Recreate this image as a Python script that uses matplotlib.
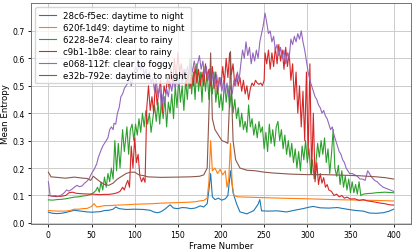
import matplotlib
matplotlib.use("Agg")
import matplotlib.pyplot as plt
import numpy as np

# ---- data (frame knots, mean entropy) ----
blue_f = [0, 5, 10, 15, 20, 25, 30, 35, 40, 45, 50, 55, 60, 65, 70, 75, 78, 82, 90, 100,
          110, 118, 122, 126, 130, 135, 141, 145, 150, 155, 160, 165, 170, 176, 180, 184, 186, 188, 190, 193,
          197, 201, 205, 208, 211, 214, 218, 222, 230, 238, 243, 245, 247, 255, 265, 276, 285, 295, 303, 307,
          315, 325, 335, 342, 350, 357, 365, 372, 380, 388, 395, 400]
blue_v = [0.039, 0.035, 0.034, 0.035, 0.038, 0.042, 0.046, 0.044, 0.042, 0.040,
          0.039, 0.040, 0.041, 0.045, 0.046, 0.050, 0.058, 0.052, 0.049, 0.050,
          0.049, 0.046, 0.040, 0.037, 0.040, 0.050, 0.066, 0.054, 0.052, 0.056,
          0.055, 0.052, 0.054, 0.062, 0.058, 0.070, 0.120, 0.180, 0.095, 0.085,
          0.090, 0.083, 0.088, 0.100, 0.190, 0.110, 0.070, 0.040, 0.033, 0.045,
          0.068, 0.085, 0.044, 0.043, 0.044, 0.040, 0.046, 0.052, 0.058, 0.060,
          0.055, 0.054, 0.056, 0.052, 0.048, 0.045, 0.043, 0.036, 0.035, 0.037,
          0.043, 0.050]

orange_f = [0, 10, 20, 25, 30, 35, 40, 45, 50, 53, 56, 60, 65, 70, 80, 90, 100, 110, 120, 130,
            140, 150, 160, 170, 175, 180, 184, 186, 188, 190, 193, 196, 199, 202, 205, 207, 209, 211, 213, 215,
            220, 230, 240, 250, 270, 300, 330, 360, 380, 400]
orange_v = [0.045, 0.043, 0.043, 0.045, 0.050, 0.050, 0.052, 0.053, 0.060, 0.070,
            0.058, 0.060, 0.063, 0.063, 0.065, 0.066, 0.068, 0.069, 0.070, 0.072,
            0.073, 0.074, 0.075, 0.077, 0.080, 0.082, 0.090, 0.150, 0.300, 0.190,
            0.200, 0.180, 0.195, 0.175, 0.190, 0.130, 0.160, 0.290, 0.140, 0.100,
            0.095, 0.094, 0.093, 0.092, 0.090, 0.088, 0.085, 0.083, 0.082, 0.080]

green_f = [0, 5, 10, 15, 20, 25, 30, 35, 40, 45, 50, 53, 55,
           57, 59, 61, 63, 65, 67, 69, 71, 73, 75, 77, 79, 81, 83, 86, 88, 91, 93, 95,
           97, 99, 101, 103, 105, 107, 109, 111, 113, 115, 117, 119, 121, 123, 125, 127, 129, 131,
           133, 135, 137, 139, 141, 143, 145, 147, 149, 151, 153, 155, 157, 159, 161, 164, 166, 168, 170,
           172, 174, 176, 178, 180, 182, 184, 186, 188,
           190, 192, 194, 196, 198, 200, 202, 204, 206, 208, 210, 212, 214, 216, 218, 220, 222, 224,
           226, 228, 230, 232, 234, 236, 238, 240, 242, 244, 246, 248, 250, 252, 254, 256, 258,
           260, 262, 264, 266, 268, 270, 272, 274, 276, 278, 280, 282, 284, 286, 288, 290, 292, 294,
           296, 298, 300, 302, 304, 306, 308, 310, 312, 314, 316, 318, 320, 322, 324, 326, 328, 330, 332,
           334, 336, 338, 340, 342, 344, 346, 348, 350, 352, 354, 356, 358, 360, 362, 365, 370, 375,
           380, 385, 390, 395, 400]
green_v = [0.084, 0.083, 0.085, 0.086, 0.088, 0.091, 0.094, 0.095, 0.098, 0.100, 0.105, 0.112, 0.118,
           0.13, 0.112, 0.149, 0.12, 0.167, 0.13, 0.18, 0.15, 0.20, 0.16, 0.30, 0.19, 0.29, 0.20, 0.34, 0.26, 0.35, 0.25, 0.34,
           0.36, 0.30, 0.36, 0.32, 0.38, 0.33, 0.40, 0.35, 0.41, 0.36, 0.40, 0.33, 0.38, 0.43, 0.37, 0.44, 0.36, 0.45,
           0.38, 0.46, 0.35, 0.44, 0.40, 0.47, 0.38, 0.50, 0.42, 0.53, 0.44, 0.50, 0.41, 0.52, 0.45, 0.60, 0.47, 0.55, 0.45,
           0.58, 0.48, 0.55, 0.44, 0.57, 0.48, 0.55, 0.45, 0.52,
           0.47, 0.55, 0.44, 0.50, 0.42, 0.47, 0.41, 0.52, 0.44, 0.50, 0.42, 0.48, 0.40, 0.45, 0.38, 0.42, 0.35, 0.40,
           0.34, 0.37, 0.33, 0.43, 0.35, 0.38, 0.32, 0.36, 0.31, 0.37, 0.33, 0.35, 0.27, 0.33, 0.26, 0.36, 0.29,
           0.34, 0.28, 0.35, 0.37, 0.30, 0.34, 0.27, 0.32, 0.25, 0.30, 0.24, 0.29, 0.22, 0.27, 0.20, 0.26, 0.19, 0.28,
           0.23, 0.30, 0.22, 0.27, 0.18, 0.23, 0.16, 0.22, 0.29, 0.24, 0.30, 0.25, 0.31, 0.22, 0.27, 0.18, 0.25, 0.34, 0.20,
           0.17, 0.21, 0.14, 0.19, 0.13, 0.17, 0.12, 0.16, 0.11, 0.15, 0.11, 0.14, 0.105, 0.15, 0.10, 0.105, 0.107, 0.108,
           0.110, 0.111, 0.112, 0.111, 0.110]

red_f = [0, 5, 10, 15, 20, 24, 28, 32, 40, 50, 55, 60, 65, 70, 75, 80, 83, 86, 88, 90, 92, 94, 96, 98,
         100, 102, 104, 106, 108, 110, 112, 114,
         116, 118, 120, 122, 124, 126, 128, 130, 132, 134, 136, 138, 140, 142, 144, 146, 148, 150,
         152, 154, 156, 158, 160, 162, 164, 166, 168, 170, 172, 174, 176, 178, 180, 182, 184, 186, 188, 190,
         192, 194, 196, 198, 200, 202, 204, 206, 208, 210, 212, 214, 216, 218, 220, 222, 224, 226, 228, 230,
         232, 234, 236, 238, 240, 242, 244, 246, 248, 250,
         251, 253, 255, 257, 259, 261, 263, 265, 267, 269, 271, 273, 275, 277, 279, 281, 283, 285, 287, 289,
         291, 293, 295, 297, 299, 301, 303, 305, 307, 309, 311, 313, 315, 317, 319, 321, 323, 325, 328, 331,
         334, 337, 340, 343, 346, 350, 355, 360, 365, 370, 375, 380, 385, 390, 395, 400]
red_v = [0.100, 0.097, 0.096, 0.097, 0.100, 0.110, 0.112, 0.108, 0.106, 0.105, 0.104, 0.103, 0.104, 0.104, 0.106,
         0.110, 0.115, 0.13, 0.12, 0.14, 0.155, 0.13, 0.28, 0.20,
         0.31, 0.22, 0.25, 0.17, 0.15, 0.165, 0.148, 0.42,
         0.50, 0.41, 0.46, 0.40, 0.51, 0.43, 0.48, 0.52, 0.40, 0.50, 0.47, 0.53, 0.49, 0.56, 0.50, 0.60, 0.52, 0.62,
         0.55, 0.58, 0.52, 0.56, 0.50, 0.55, 0.49, 0.54, 0.50, 0.57, 0.51, 0.56, 0.50, 0.55, 0.50, 0.58, 0.52, 0.56, 0.50, 0.57,
         0.49, 0.55, 0.47, 0.53, 0.50, 0.57, 0.51, 0.60, 0.53, 0.62, 0.54, 0.58, 0.50, 0.54, 0.50, 0.53, 0.48, 0.52, 0.47, 0.50,
         0.45, 0.49, 0.51, 0.50, 0.52, 0.51, 0.505, 0.51, 0.50, 0.52,
         0.62, 0.58, 0.63, 0.56, 0.62, 0.57, 0.64, 0.58, 0.65, 0.59, 0.63, 0.56, 0.64, 0.57, 0.62, 0.52, 0.58, 0.45, 0.55, 0.40,
         0.50, 0.35, 0.48, 0.30, 0.55, 0.25, 0.58, 0.18, 0.40, 0.15, 0.22, 0.14, 0.18, 0.145, 0.165, 0.13, 0.14, 0.12, 0.115, 0.10,
         0.105, 0.095, 0.10, 0.09, 0.094, 0.087, 0.088, 0.082, 0.085, 0.080, 0.078, 0.075, 0.072, 0.070, 0.066, 0.065]

purple_f = [0, 2, 5, 8, 11, 14, 17, 19, 21, 24, 27, 30, 33, 36, 39, 42, 44, 47, 50, 53, 56, 58, 61, 63, 65,
            67, 69, 71, 73, 75, 76, 78, 80, 82, 84, 86, 88, 90, 92, 94, 96, 98, 101, 103, 105, 107, 109, 111,
            113, 115, 117, 119, 121, 123, 125, 127, 129, 131, 133, 135, 137, 139, 141, 143, 145, 147, 149, 151,
            153, 155, 157, 159, 161, 163, 165, 167, 169, 171, 173, 175, 177, 179, 181, 183, 185, 187, 189, 191,
            193, 195, 197, 199, 201, 203, 205, 207, 209, 211, 213, 215, 217, 219, 221, 223, 225, 227, 229, 231,
            233, 235, 237, 239, 241, 243, 245, 247, 249, 251, 253, 255, 257, 259, 261, 263, 265, 267, 269, 271,
            273, 275, 277, 279, 281, 283, 285, 287, 289, 291, 293, 295, 297, 299, 301, 303, 305, 307, 309, 311,
            313, 315, 317, 319, 321, 323, 325, 327, 329, 331, 333, 335, 337, 339, 341, 343, 345, 347, 349, 352,
            355, 358, 361, 364, 367, 370, 372, 375, 378, 381, 384, 388, 392, 396, 400]
purple_v = [0.150, 0.100, 0.098, 0.100, 0.097, 0.100, 0.106, 0.112, 0.120, 0.116, 0.122, 0.130, 0.137, 0.132, 0.135,
            0.145, 0.150, 0.160, 0.180, 0.195, 0.215, 0.24, 0.265, 0.28, 0.29,
            0.30, 0.31, 0.34, 0.35, 0.34, 0.363, 0.36, 0.40, 0.42, 0.46, 0.47, 0.49, 0.50, 0.51, 0.53, 0.50, 0.53,
            0.57, 0.55, 0.58, 0.56, 0.58, 0.54,
            0.56, 0.52, 0.55, 0.51, 0.53, 0.48, 0.52, 0.46, 0.50, 0.42, 0.47, 0.44, 0.49, 0.46, 0.51, 0.48, 0.53, 0.49,
            0.54, 0.50, 0.55, 0.51, 0.56, 0.53, 0.57, 0.54, 0.58, 0.55, 0.59, 0.56, 0.58, 0.61, 0.56, 0.59, 0.54, 0.57,
            0.52, 0.56, 0.51, 0.55, 0.50, 0.54, 0.49, 0.53, 0.48, 0.52, 0.47, 0.51, 0.46, 0.50, 0.47, 0.52, 0.50, 0.55,
            0.52, 0.58, 0.63, 0.60, 0.66, 0.61, 0.64, 0.58, 0.62, 0.59, 0.63, 0.60, 0.66, 0.69, 0.72, 0.765, 0.73, 0.69,
            0.70, 0.66, 0.68, 0.63, 0.65, 0.61, 0.64, 0.60, 0.63, 0.58, 0.62, 0.60, 0.67, 0.65, 0.68, 0.66, 0.69, 0.67,
            0.70, 0.66, 0.63, 0.59, 0.55, 0.52, 0.50, 0.48, 0.46, 0.45, 0.43, 0.42, 0.40, 0.41, 0.39, 0.38, 0.36, 0.34,
            0.35, 0.32, 0.30, 0.28, 0.26, 0.25, 0.23, 0.22, 0.20, 0.19, 0.18, 0.18, 0.175, 0.17, 0.16, 0.16, 0.155,
            0.19, 0.18, 0.165, 0.155, 0.15, 0.14, 0.13, 0.125, 0.12, 0.115]

brown_f = [0, 3, 10, 20, 30, 40, 45, 49, 52, 56, 60, 65, 70, 75, 80, 85, 90, 95, 100, 105,
           111, 115, 130, 150, 165, 175, 180, 184, 186, 188, 190, 193, 197, 201, 205, 208, 210, 211, 212, 214,
           217, 222, 230, 240, 250, 260, 280, 300, 320, 340, 360, 380, 390, 400]
brown_v = [0.185, 0.168, 0.166, 0.163, 0.167, 0.163, 0.162, 0.155, 0.170, 0.160,
           0.150, 0.140, 0.137, 0.145, 0.160, 0.170, 0.180, 0.185, 0.185, 0.175,
           0.172, 0.168, 0.166, 0.167, 0.168, 0.170, 0.175, 0.200, 0.400, 0.620,
           0.380, 0.340, 0.320, 0.300, 0.295, 0.290, 0.450, 0.625, 0.500, 0.300,
           0.230, 0.200, 0.192, 0.190, 0.185, 0.182, 0.178, 0.176, 0.176, 0.174,
           0.172, 0.168, 0.165, 0.160]

labels = ["28c6-f5ec: daytime to night", "620f-1d49: daytime to night",
          "6228-8e74: clear to rainy", "c9b1-1b8e: clear to rainy",
          "e068-112f: clear to foggy", "e32b-792e: daytime to night"]

series = [(blue_f, blue_v), (orange_f, orange_v), (green_f, green_v),
          (red_f, red_v), (purple_f, purple_v), (brown_f, brown_v)]

fig = plt.figure(figsize=(4.15, 2.51), dpi=100)
ax = fig.add_axes([0.075, 0.104, 0.915, 0.880])

for (f, v), lab in zip(series, labels):
    ax.plot(f, v, lw=0.8, label=lab)

ax.set_xticks(np.arange(0, 401, 50))
ax.set_yticks(np.arange(0, 0.71, 0.1))
ax.tick_params(labelsize=5.6, length=2.5, width=0.6, pad=2)
ax.set_xlabel("Frame Number", fontsize=6.2, labelpad=1)
ax.set_ylabel("Mean Entropy", fontsize=6.2, labelpad=2)
ax.grid(True, color="#cccccc", lw=0.7)
for s in ax.spines.values():
    s.set_color("0.45")
    s.set_linewidth(0.7)

ax.legend(loc="upper left", fontsize=6.2, handlelength=2.0, borderpad=0.4,
          labelspacing=0.35, handletextpad=0.8, framealpha=0.8)

fig.savefig("out.png", dpi=100)
